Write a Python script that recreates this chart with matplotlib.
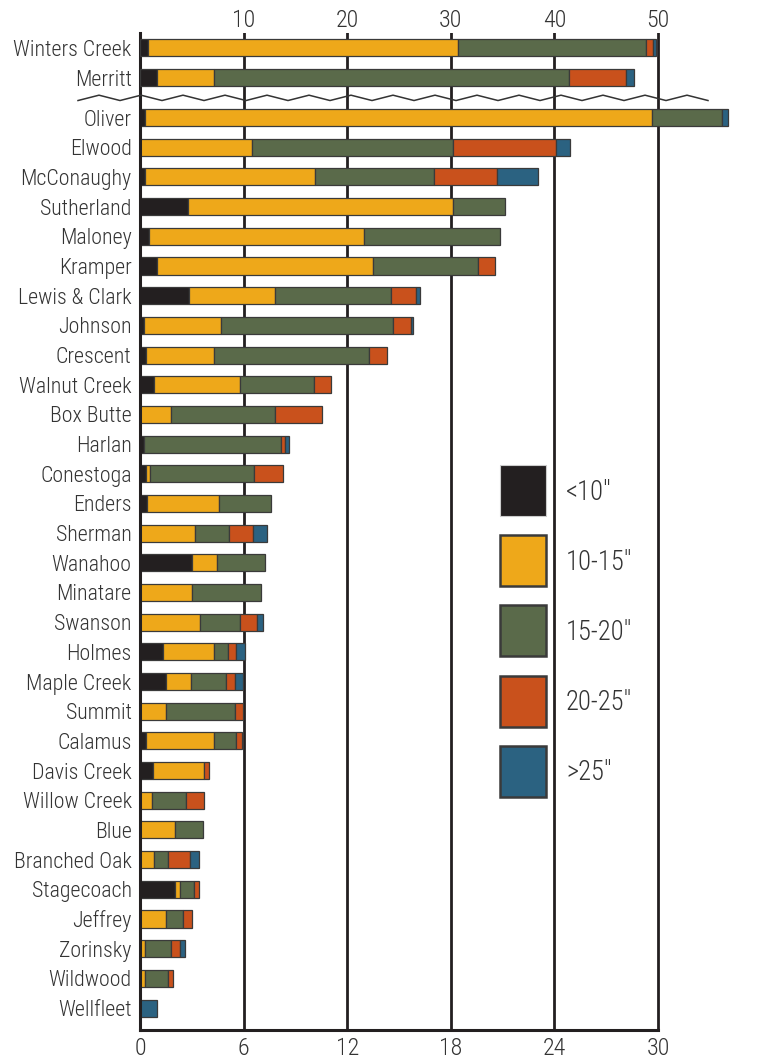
import os
import numpy as np
import matplotlib
matplotlib.use("Agg")
import matplotlib.pyplot as plt
import matplotlib.font_manager as fm
from matplotlib.patches import Rectangle

# ---------------- data ----------------
top_categories = ["Winters Creek", "Merritt"]
top_lt10 = [0.75, 1.6]
top_10_15 = [29.9, 5.5]
top_15_20 = [18.2, 34.3]
top_20_25 = [0.65, 5.5]
top_gt25 = [0.3, 0.8]

categories = ["Oliver", "Elwood", "McConaughy", "Sutherland", "Maloney", "Kramper",
              "Lewis & Clark", "Johnson", "Crescent", "Walnut Creek", "Box Butte",
              "Harlan", "Conestoga", "Enders", "Sherman", "Wanahoo", "Minatare",
              "Swanson", "Holmes", "Maple Creek", "Summit", "Calamus", "Davis Creek",
              "Willow Creek", "Blue", "Branched Oak", "Stagecoach", "Jeffrey",
              "Zorinsky", "Wildwood", "Wellfleet"]
lt10 = [0.28, 0, 0.3, 2.8, 0.5, 1.0, 2.85, 0.23, 0.33, 0.83, 0, 0.23, 0.33, 0.42, 0,
        3.0, 0, 0, 1.33, 1.52, 0, 0.33, 0.73, 0, 0, 0, 2.02, 0, 0, 0, 0]
s10_15 = [29.4, 6.5, 9.85, 15.3, 12.5, 12.5, 4.95, 4.45, 3.95, 4.95, 1.8, 0, 0.25, 4.15,
          3.17, 1.46, 3.0, 3.48, 2.94, 1.46, 1.48, 3.94, 2.96, 0.69, 2.0, 0.79, 0.27,
          1.48, 0.31, 0.31, 0]
s15_20 = [4.05, 11.6, 6.9, 3.05, 7.85, 6.05, 6.75, 10.0, 9.0, 4.3, 6.0, 7.95, 6.05, 3.0,
          2.0, 2.8, 4.0, 2.3, 0.83, 2.0, 4.04, 1.3, 0, 2.0, 1.65, 0.81, 0.81, 1.02,
          1.5, 1.32, 0]
s20_25 = [0, 6.0, 3.6, 0, 0, 1.0, 1.45, 1.0, 1.0, 1.0, 2.75, 0.2, 1.67, 0, 1.4, 0, 0,
          1.0, 0.46, 0.5, 0.46, 0.33, 0.3, 1.0, 0, 1.3, 0.3, 0.54, 0.5, 0.27, 0]
gt25 = [0.3, 0.8, 2.4, 0, 0, 0, 0.2, 0.15, 0, 0, 0, 0.23, 0, 0, 0.8, 0, 0, 0.33, 0.54,
        0.48, 0, 0, 0, 0, 0, 0.52, 0, 0, 0.29, 0, 1.0]

legend_labels = ["<10\u2033", "10-15\u2033", "15-20\u2033", "20-25\u2033", ">25\u2033"]
bottom_ticks = [0, 6, 12, 18, 24, 30]
top_ticks = [10, 20, 30, 40, 50]

# ---------------- style ----------------
colors = ["#231f20", "#eea81a", "#5a6a4a", "#c9511c", "#2b6281"]
edge = "#3a3a3a"
dark = "#231f20"
textc = "#333333"

# pick a condensed (light) font file
files = {os.path.basename(f.fname): f.fname for f in fm.fontManager.ttflist}
pref = ["RobotoCondensed-Light.ttf", "NotoSans-CondensedLight.ttf",
        "RobotoCondensed-Regular.ttf", "NotoSans-Condensed.ttf",
        "LiberationSansNarrow-Regular.ttf", "DejaVuSansCondensed.ttf"]
FP = None
for p in pref:
    if p in files:
        FP = fm.FontProperties(fname=files[p])
        break
if FP is None:
    FP = fm.FontProperties(family="DejaVu Sans", stretch="condensed")

W, H = 760, 1059
fig = plt.figure(figsize=(W / 100, H / 100), dpi=100)
renderer = fig.canvas.get_renderer()


def fit_size(s, target_px):
    t = fig.text(0, 0, s, fontproperties=FP, fontsize=10)
    w = t.get_window_extent(renderer).width
    t.remove()
    return 10 * target_px / w


fs_rows = fit_size("Winters Creek", 118)
fs_ticks = fs_rows * 1.1
fs_leg = fit_size("10-15\u2033", 67)

px_per_unit = 518 / 30.0
x_left, x_right = 140, 744
y_top, y_bot = 33, 1030
ax = fig.add_axes([x_left / W, 1 - y_bot / H, (x_right - x_left) / W, (y_bot - y_top) / H])
xmax = (x_right - x_left) / px_per_unit
ax.set_xlim(0, xmax)

# y positions
y_top_rows = [0, 1]
y_rows = [2.35 + i for i in range(len(categories))]
ax.set_ylim(y_rows[-1] + 0.74, -0.5)

bar_h = 0.575


def draw_stack(axis, ypos, series):
    left = np.zeros(len(ypos))
    for vals, c in zip(series, colors):
        vals = np.asarray(vals, dtype=float)
        mask = vals > 0
        axis.barh(np.asarray(ypos)[mask], vals[mask], left=left[mask], height=bar_h,
                  color=c, edgecolor=edge, linewidth=0.9, zorder=3)
        left += vals


draw_stack(ax, y_rows, [lt10, s10_15, s15_20, s20_25, gt25])

# grid
ax.set_xticks(bottom_ticks)
ax.set_xticklabels([str(t) for t in bottom_ticks], color=textc)
ax.tick_params(axis="x", length=0, pad=5)
for t in bottom_ticks[1:]:
    ax.axvline(t, color=dark, lw=2, zorder=1)

for s in ["top", "right"]:
    ax.spines[s].set_visible(False)
ax.spines["left"].set_linewidth(2.2)
ax.spines["left"].set_color(dark)
ax.spines["bottom"].set_linewidth(2.2)
ax.spines["bottom"].set_color(dark)
ax.spines["bottom"].set_bounds(0, 30)
ax.spines["left"].set_zorder(5)

# top axis for first two rows
ax2 = ax.twiny()
ax2.set_xlim(0, xmax * 5 / 3)
draw_stack(ax2, y_top_rows, [top_lt10, top_10_15, top_15_20, top_20_25, top_gt25])
ax2.set_xticks(top_ticks)
ax2.set_xticklabels([str(t) for t in top_ticks], color=textc)
ax2.tick_params(axis="x", length=0, pad=1)
for s in ax2.spines.values():
    s.set_visible(False)

# category labels (shared y axis)
ax.set_ylim(y_rows[-1] + 0.74, -0.5)
ax.set_yticks(y_top_rows + y_rows)
ax.set_yticklabels(top_categories + categories, color=textc)
ax.tick_params(axis="y", length=0, pad=6)

for lab in ax.get_xticklabels() + ax2.get_xticklabels():
    lab.set_fontproperties(FP)
    lab.set_fontsize(fs_ticks)
for lab in ax.get_yticklabels():
    lab.set_fontproperties(FP)
    lab.set_fontsize(fs_rows)

# break zigzag
xs_px = np.arange(78, 712, 21.0)
xs = (xs_px - x_left) / px_per_unit
ys = 1.685 + np.where(np.arange(len(xs)) % 2 == 0, 0.09, -0.09)
ax.plot(xs, ys, color="#333333", lw=1.1, clip_on=False, zorder=6)

# legend
sq_tops = [465, 535, 605, 676, 746]
for i, (lab, c) in enumerate(zip(legend_labels, colors)):
    top = sq_tops[i]
    ec = "#cccccc" if i == 0 else "#3a3a3a"
    lw = 0.8 if i == 0 else 1.8
    fig.add_artist(Rectangle((500 / W, 1 - (top + 51) / H), 46 / W, 51 / H,
                             transform=fig.transFigure, facecolor=c, edgecolor=ec,
                             linewidth=lw, zorder=10))
    fig.text(566 / W, 1 - (top + 27) / H, lab, fontproperties=FP, fontsize=fs_leg,
             color=textc, va="center", ha="left", zorder=10)

fig.savefig("out.png", dpi=100)
